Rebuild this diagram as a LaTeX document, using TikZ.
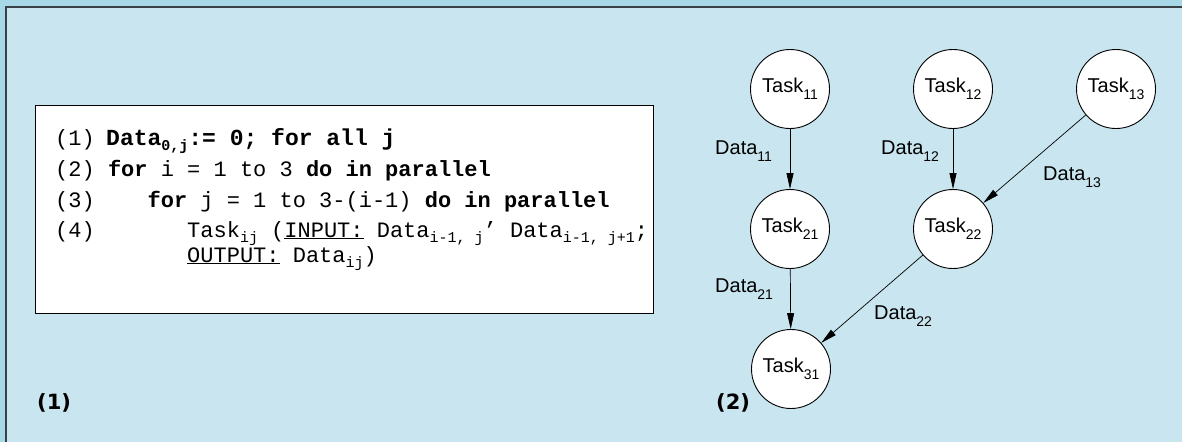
\documentclass[tikz,border=0pt]{standalone}
\usepackage{fontspec}
\setmainfont{Liberation Sans}
\newfontfamily\codefont{Liberation Mono}
\newfontfamily\tagfont{DejaVu Sans}
\usetikzlibrary{arrows.meta}
\definecolor{outerblue}{RGB}{168,216,232}
\definecolor{innerblue}{RGB}{201,229,239}
\definecolor{framegray}{RGB}{55,65,70}
\newcommand{\csub}[1]{\raisebox{-5pt}{\fontsize{15}{15}\selectfont #1}}
\newcommand{\tsub}[1]{\raisebox{-7pt}{\fontsize{14}{14}\selectfont #1}}
\tikzset{
  codebox/.style={draw=black, line width=1.3pt, fill=white, inner sep=0pt, anchor=north west},
  codeline/.style={anchor=base west, inner sep=0pt, font=\codefont\fontsize{22}{22}\selectfont},
  task/.style={circle, draw=black, line width=0.9pt, fill=white, minimum size=79pt, inner sep=0pt, font=\fontsize{20}{20}\selectfont},
  dlabel/.style={anchor=base west, inner sep=0pt, font=\fontsize{20}{20}\selectfont},
  edge/.style={line width=0.7pt, -{Triangle[length=16pt,width=7pt]}},
  tag/.style={anchor=west, inner sep=0pt, font=\tagfont\bfseries\fontsize{21}{21}\selectfont}
}
\begin{document}
\begin{tikzpicture}[x=1pt,y=-1pt]
\useasboundingbox (0,0) rectangle (1182,442);
\fill[outerblue] (0,0) rectangle (1182,442);
\fill[innerblue] (6,7) rectangle (1182,442);
\draw[framegray, line width=1.5pt] (6,442) -- (6,7) -- (1182,7);
% code box
\node[codebox, minimum width=618pt, minimum height=208pt] (box) at (35,105) {};
\node[codeline] (n1) at (55,145) {(1)};
\node[codeline, font=\codefont\bfseries\fontsize{23}{23}\selectfont] (l1) at (106,145) {Data\csub{\bfseries 0,j}:= 0; for all j};
\node[codeline] (n2) at (55,176) {(2)};
\node[codeline] (l2) at (107.8,176) {\textbf{for} i = 1 to 3 \textbf{do in parallel}};
\node[codeline] (n3) at (55,207) {(3)};
\node[codeline] (l3) at (147.4,207) {\textbf{for} j = 1 to 3-(i-1) \textbf{do in parallel}};
\node[codeline] (n4) at (55,237) {(4)};
\node[codeline] (l4) at (187,237) {Task\csub{ij} (\underline{INPUT:} Data\csub{i-1, j}’ Data\csub{i-1, j+1};};
\node[codeline] (l5) at (187,262) {\underline{OUTPUT:} Data\csub{ij})};
% graph
\node[task] (t11) at (790,89) {Task\tsub{11}};
\node[task] (t12) at (953,89) {Task\tsub{12}};
\node[task] (t13) at (1116,89) {Task\tsub{13}};
\node[task] (t21) at (790,229) {Task\tsub{21}};
\node[task] (t22) at (953,229) {Task\tsub{22}};
\node[task] (t31) at (791,369) {Task\tsub{31}};
\draw[edge] (t11) -- (t21);
\draw[edge] (t12) -- (t22);
\draw[edge] (t13) -- (t22);
\draw[edge] (t21) -- (t31);
\draw[edge] (t22) -- (t31);
\node[dlabel] (d11) at (715,154) {Data\tsub{11}};
\node[dlabel] (d12) at (881,154) {Data\tsub{12}};
\node[dlabel] (d13) at (1043,180) {Data\tsub{13}};
\node[dlabel] (d21) at (715,292) {Data\tsub{21}};
\node[dlabel] (d22) at (874,319) {Data\tsub{22}};
% tags
\node[tag] (tag1) at (37,403) {(1)};
\node[tag] (tag2) at (716,403) {(2)};
\end{tikzpicture}
\end{document}
